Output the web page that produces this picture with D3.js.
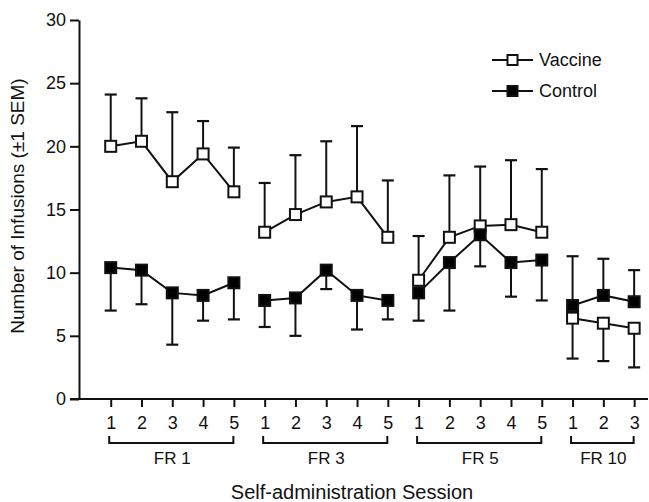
<!DOCTYPE html>
<html>
<head>
<meta charset="utf-8">
<script src="https://cdn.jsdelivr.net/npm/d3@7"></script>
<style>
  body { margin: 0; background: #fff; }
  svg { display: block; font-family: "Liberation Sans", Arial, sans-serif; }
</style>
</head>
<body>
<svg id="chart" width="649" height="502"></svg>
<script>
// Sessions, one entry per tick on the x axis.
const sessionLabels = ["1", "2", "3", "4", "5", "1", "2", "3", "4", "5", "1", "2", "3", "4", "5", "1", "2", "3"];
// Fixed-ratio schedules: first and last session index of each.
const schedules = [
  {name: "FR 1", from: 0, to: 4},
  {name: "FR 3", from: 5, to: 9},
  {name: "FR 5", from: 10, to: 14},
  {name: "FR 10", from: 15, to: 17},
];

// Mean infusions and the end of the drawn SEM bar (one side only).
const vaccineMean = [20.0, 20.4, 17.2, 19.4, 16.4, 13.2, 14.6, 15.6, 16.0, 12.8, 9.4, 12.8, 13.7, 13.8, 13.2, 6.4, 6.0, 5.6];
const vaccineErr  = [24.1, 23.8, 22.7, 22.0, 19.9, 17.1, 19.3, 20.4, 21.6, 17.3, 12.9, 17.7, 18.4, 18.9, 18.2, 3.2, 3.0, 2.5];
const controlMean = [10.4, 10.2, 8.4, 8.2, 9.2, 7.8, 8.0, 10.2, 8.2, 7.8, 8.4, 10.8, 13.0, 10.8, 11.0, 7.4, 8.2, 7.7];
const controlErr  = [7.0, 7.5, 4.3, 6.2, 6.3, 5.7, 5.0, 8.7, 5.5, 6.3, 6.2, 7.0, 10.5, 8.1, 7.8, 11.3, 11.1, 10.2];

const yTicks = [0, 5, 10, 15, 20, 25, 30];

const series = [
  {name: "Vaccine", mean: vaccineMean, err: vaccineErr, fill: "#fff"},
  {name: "Control", mean: controlMean, err: controlErr, fill: "#000"},
];

const svg = d3.select("#chart");
const ink = "#111";
const sw = 2;

const x = d3.scaleLinear().domain([-1.03, 17.45]).range([79, 648]);
const y = d3.scaleLinear().domain([0, 30]).range([399, 20]);

// Axes.
svg.append("g")
  .attr("transform", "translate(79,0)")
  .call(d3.axisLeft(y).tickValues(yTicks).tickSize(9).tickSizeOuter(0).tickPadding(4))
  .call(g => g.selectAll("path,line").attr("stroke", ink).attr("stroke-width", sw))
  .call(g => g.selectAll("text").attr("font-size", 18).attr("fill", ink).attr("font-family", null));

svg.append("line")
  .attr("x1", 70).attr("x2", x.range()[1])
  .attr("y1", y(0)).attr("y2", y(0))
  .attr("stroke", ink).attr("stroke-width", sw);

svg.append("g")
  .attr("transform", `translate(0,${y(0)})`)
  .call(d3.axisBottom(x).tickValues(d3.range(sessionLabels.length)).tickFormat(i => sessionLabels[i]).tickSize(8).tickPadding(9))
  .call(g => g.select(".domain").remove())
  .call(g => g.selectAll("line").attr("stroke", ink).attr("stroke-width", sw))
  .call(g => g.selectAll("text").attr("font-size", 18).attr("fill", ink).attr("font-family", null));

// Schedule brackets.
const br = svg.append("g").attr("fill", "none").attr("stroke", ink).attr("stroke-width", sw);
schedules.forEach(s => {
  const x1 = x(s.from) - 1.5, x2 = x(s.to) - 0.5;
  br.append("path").attr("d", `M${x1},436V443H${x2}V436`);
  svg.append("text")
    .attr("x", (x(s.from) + x(s.to)) / 2).attr("y", 464)
    .attr("text-anchor", "middle").attr("font-size", 17).attr("fill", ink)
    .text(s.name);
});

// Axis titles.
svg.append("text")
  .attr("x", 352).attr("y", 499)
  .attr("text-anchor", "middle").attr("font-size", 20).attr("fill", ink)
  .text("Self-administration Session");
svg.append("text")
  .attr("transform", "translate(24,206) rotate(-90)")
  .attr("text-anchor", "middle").attr("font-size", 19).attr("fill", ink)
  .text("Number of Infusions (\u00b11 SEM)");

// Data: lines join sessions inside a schedule only.
const line = d3.line().x(d => x(d.i)).y(d => y(d.v));
const box = 11;

series.forEach(s => {
  const g = svg.append("g");
  // error bars
  s.mean.forEach((m, i) => {
    g.append("line")
      .attr("x1", x(i)).attr("x2", x(i))
      .attr("y1", y(m)).attr("y2", y(s.err[i]))
      .attr("stroke", ink).attr("stroke-width", sw);
    g.append("line")
      .attr("x1", x(i) - 6).attr("x2", x(i) + 6)
      .attr("y1", y(s.err[i])).attr("y2", y(s.err[i]))
      .attr("stroke", ink).attr("stroke-width", 2.2);
  });
});

series.forEach(s => {
  const g = svg.append("g");
  schedules.forEach(sc => {
    const pts = d3.range(sc.from, sc.to + 1).map(i => ({i: i, v: s.mean[i]}));
    g.append("path").datum(pts)
      .attr("d", line).attr("fill", "none")
      .attr("stroke", ink).attr("stroke-width", sw);
  });
});

series.forEach(s => {
  svg.append("g").selectAll("rect")
    .data(s.mean)
    .join("rect")
    .attr("x", (d, i) => x(i) - box / 2)
    .attr("y", d => y(d) - box / 2)
    .attr("width", box).attr("height", box)
    .attr("fill", s.fill).attr("stroke", ink).attr("stroke-width", sw);
});

// Legend.
const legend = svg.append("g");
series.forEach((s, k) => {
  const ly = 60 + k * 31;
  legend.append("line")
    .attr("x1", 492).attr("x2", 533).attr("y1", ly).attr("y2", ly)
    .attr("stroke", ink).attr("stroke-width", sw);
  legend.append("rect")
    .attr("x", 512.5 - 5).attr("y", ly - 5).attr("width", 10).attr("height", 10)
    .attr("fill", s.fill).attr("stroke", ink).attr("stroke-width", sw);
  legend.append("text")
    .attr("x", 539).attr("y", ly).attr("dy", "0.35em")
    .attr("font-size", 18).attr("fill", ink)
    .text(s.name);
});
</script>
</body>
</html>
